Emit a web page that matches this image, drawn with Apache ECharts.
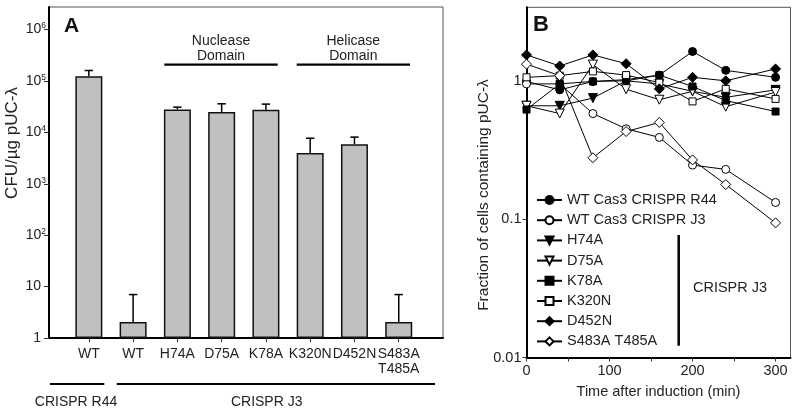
<!DOCTYPE html>
<html><head><meta charset="utf-8">
<script src="https://cdn.jsdelivr.net/npm/echarts@6/dist/echarts.min.js"></script>
<style>html,body{margin:0;padding:0;background:#fff}#c{width:800px;height:415px}</style>
</head><body><div id="c"></div>
<script>
// ---------- Panel A data ----------
const categoriesA = ['WT', 'WT', 'H74A', 'D75A', 'K78A', 'K320N', 'D452N', 'S483A\nT485A'];
const cfuMean  = [124000, 2.05, 28000, 25000, 27600, 3960, 5900, 2.05];
const cfuUpper = [160000, 7.0, 31000, 36000, 35500, 7700, 8100, 7.0];
const yTicksA  = [1, 10, 100, 1000, 10000, 100000, 1000000];

// ---------- Panel B data ----------
const timesB = [0, 40, 80, 120, 160, 200, 240, 300];
const namesB = ['WT Cas3 CRISPR R44', 'WT Cas3 CRISPR J3', 'H74A', 'D75A', 'K78A', 'K320N', 'D452N', 'S483A T485A'];
const wtR44 = [0.99, 0.86, 0.99, 1.00, 1.10, 1.63, 1.19, 1.06];
const wtJ3  = [0.95, 0.95, 0.58, 0.45, 0.39, 0.246, 0.229, 0.132];
const h74a  = [0.66, 0.66, 0.75, 1.00, 0.95, 0.84, 0.76, 0.86];
const d75a  = [0.66, 0.58, 1.31, 0.87, 0.73, 0.84, 0.65, 0.83];
const k78a  = [0.62, 0.95, 0.99, 1.02, 1.10, 0.91, 0.72, 0.60];
const k320n = [1.06, 1.09, 1.17, 1.10, 0.97, 0.71, 0.875, 0.74];
const d452n = [1.54, 1.28, 1.54, 1.33, 0.875, 1.06, 1.00, 1.22];
const s483a = [1.32, 1.09, 0.278, 0.43, 0.50, 0.268, 0.178, 0.094];
const xTicksB = [0, 100, 200, 300];
const xMinorTicksB = [0, 50, 100, 150, 200, 250, 300];
const yTicksB = [0.01, 0.1, 1];

const chart = echarts.init(document.getElementById('c'), null, {renderer: 'canvas', width: 800, height: 415});
const txt = '#222';
const FONT = '"Liberation Sans", Arial, Helvetica, sans-serif';

const posA = categoriesA.map((c, i) => i + 1);
const barData = cfuMean.map((v, i) => [posA[i], v]);
const errData = cfuMean.map((v, i) => [posA[i], v, cfuUpper[i]]);

const TRI_DOWN = 'path://M0,0L10,0L5,9Z';
const styleB = [
  {symbol: 'circle', size: 8, fill: '#000'},
  {symbol: 'circle', size: 8, fill: '#fff'},
  {symbol: TRI_DOWN, size: 9, fill: '#000'},
  {symbol: TRI_DOWN, size: 9, fill: '#fff'},
  {symbol: 'rect', size: 7, fill: '#000'},
  {symbol: 'rect', size: 7, fill: '#fff'},
  {symbol: 'diamond', size: 10, fill: '#000'},
  {symbol: 'diamond', size: 10, fill: '#fff'}
];
const valuesB = [wtR44, wtJ3, h74a, d75a, k78a, k320n, d452n, s483a];

const seriesB = namesB.map((name, k) => ({
  name: name,
  type: 'line',
  xAxisIndex: 1, yAxisIndex: 1,
  data: timesB.map((t, i) => [t, valuesB[k][i]]),
  symbol: styleB[k].symbol,
  symbolSize: styleB[k].size,
  showAllSymbol: true,
  lineStyle: {color: '#000', width: 1},
  itemStyle: {color: styleB[k].fill, borderColor: '#000', borderWidth: 1},
  emphasis: {disabled: true},
  z: 3 + k
}));

const option = {
  animation: false,
  textStyle: {fontFamily: FONT},
  grid: [
    {left: 49, top: 7, width: 394, height: 331, show: true, borderColor: '#555', borderWidth: 1, containLabel: false},
    {left: 526.5, top: 7.3, width: 264, height: 350.2, show: true, borderColor: '#555', borderWidth: 1, containLabel: false}
  ],
  xAxis: [
    {
      gridIndex: 0, type: 'value', min: 0.1, max: 9,
      splitLine: {show: false},
      axisLine: {onZero: false, lineStyle: {color: '#000', width: 2}},
      axisTick: {customValues: posA, length: 4, lineStyle: {color: '#333', width: 1}},
      axisLabel: {customValues: posA, formatter: v => categoriesA[Math.round(v) - 1] || '',
                  fontSize: 14, color: txt, margin: 8, lineHeight: 15.5, fontFamily: FONT}
    },
    {
      gridIndex: 1, type: 'value', min: 0, max: 318,
      splitLine: {show: false},
      axisLine: {onZero: false, lineStyle: {color: '#000', width: 2}},
      axisTick: {customValues: xMinorTicksB, length: 4, lineStyle: {color: '#333', width: 1}},
      axisLabel: {customValues: xTicksB, fontSize: 14.5, color: txt, margin: 6, fontFamily: FONT},
      name: 'Time after induction (min)', nameLocation: 'middle', nameGap: 27,
      nameTextStyle: {fontSize: 14.5, color: txt, fontFamily: FONT}
    }
  ],
  yAxis: [
    {
      gridIndex: 0, type: 'log', logBase: 10, min: 1, max: 2750000,
      splitLine: {show: false}, minorTick: {show: false},
      axisLine: {onZero: false, lineStyle: {color: '#000', width: 2}},
      axisTick: {customValues: yTicksA, length: 5, lineStyle: {color: '#333', width: 1}},
      axisLabel: {
        customValues: yTicksA, fontSize: 14, color: txt, margin: 3, fontFamily: FONT,
        formatter: v => {
          const e = Math.round(Math.log10(v));
          if (e === 0) return '1{pad| }';
          if (e === 1) return '10{pad| }';
          return '10{sup|' + e + '}';
        },
        rich: {
          sup: {fontSize: 8.5, verticalAlign: 'top', padding: [0, 0, 7, 0], color: txt, fontFamily: FONT},
          pad: {fontSize: 8.5, width: 5}
        }
      }
    },
    {
      gridIndex: 1, type: 'log', logBase: 10, min: 0.01, max: 3.4,
      splitLine: {show: false}, minorTick: {show: false},
      axisLine: {onZero: false, lineStyle: {color: '#000', width: 2}},
      axisTick: {customValues: yTicksB, length: 4, lineStyle: {color: '#333', width: 1}},
      axisLabel: {customValues: yTicksB, fontSize: 14.5, color: txt, margin: 5, fontFamily: FONT,
                  formatter: v => String(v)}
    }
  ],
  legend: {
    orient: 'vertical', left: 531, top: 187,
    itemWidth: 25, itemHeight: 10, itemGap: 4.2,
    textStyle: {fontSize: 14.5, color: txt, fontFamily: FONT, lineHeight: 16},
    data: namesB, selectedMode: false
  },
  series: [
    {
      type: 'bar', xAxisIndex: 0, yAxisIndex: 0, data: barData, barWidth: 27,
      itemStyle: {color: '#c0c0c0', borderColor: '#111', borderWidth: 1.5},
      emphasis: {disabled: true}, z: 2
    },
    {
      type: 'custom', xAxisIndex: 0, yAxisIndex: 0, data: errData, z: 3,
      encode: {x: 0, y: [1, 2]},
      renderItem: (params, api) => {
        const p0 = api.coord([api.value(0), api.value(1)]);
        const p1 = api.coord([api.value(0), api.value(2)]);
        const st = {stroke: '#000', lineWidth: 1.5};
        return {type: 'group', children: [
          {type: 'line', shape: {x1: p0[0], y1: p0[1], x2: p1[0], y2: p1[1]}, style: st},
          {type: 'line', shape: {x1: p1[0] - 4.2, y1: p1[1], x2: p1[0] + 4.2, y2: p1[1]}, style: st}
        ]};
      }
    }
  ].concat(seriesB),
  graphic: [
    // panel letters
    {type: 'text', x: 64, y: 26, style: {text: 'A', font: 'bold 21px ' + FONT, fill: '#111', align: 'left', verticalAlign: 'middle'}},
    {type: 'text', x: 533, y: 25, style: {text: 'B', font: 'bold 22px ' + FONT, fill: '#111', align: 'left', verticalAlign: 'middle'}},
    // panel A annotations
    {type: 'text', x: 221, y: 48.5, style: {text: 'Nuclease\nDomain', font: '14px ' + FONT, lineHeight: 15, fill: txt, align: 'center', verticalAlign: 'middle'}},
    {type: 'line', shape: {x1: 164.3, y1: 64.7, x2: 277.7, y2: 64.7}, style: {stroke: '#000', lineWidth: 2.3}},
    {type: 'text', x: 353.3, y: 48.5, style: {text: 'Helicase\nDomain', font: '14px ' + FONT, lineHeight: 15, fill: txt, align: 'center', verticalAlign: 'middle'}},
    {type: 'line', shape: {x1: 296.7, y1: 64.7, x2: 410, y2: 64.7}, style: {stroke: '#000', lineWidth: 2.3}},
    {type: 'line', shape: {x1: 50, y1: 384, x2: 104.3, y2: 384}, style: {stroke: '#000', lineWidth: 2}},
    {type: 'line', shape: {x1: 116.7, y1: 384, x2: 435, y2: 384}, style: {stroke: '#000', lineWidth: 2}},
    {type: 'text', x: 76, y: 402.3, style: {text: 'CRISPR R44', font: '14px ' + FONT, fill: txt, align: 'center', verticalAlign: 'middle'}},
    {type: 'text', x: 266.7, y: 402.3, style: {text: 'CRISPR J3', font: '14px ' + FONT, fill: txt, align: 'center', verticalAlign: 'middle'}},
    {type: 'text', x: 12, y: 143, rotation: Math.PI / 2, style: {text: 'CFU/µg pUC-λ', font: '17px ' + FONT, fill: txt, align: 'center', verticalAlign: 'middle'}},
    // panel B annotations
    {type: 'text', x: 484, y: 195, rotation: Math.PI / 2, style: {text: 'Fraction of cells containing pUC-λ', font: '15.5px ' + FONT, fill: txt, align: 'center', verticalAlign: 'middle'}},
    {type: 'line', shape: {x1: 678.7, y1: 235, x2: 678.7, y2: 345.7}, style: {stroke: '#000', lineWidth: 2.5}},
    {type: 'text', x: 730, y: 288.3, style: {text: 'CRISPR J3', font: '14.5px ' + FONT, fill: txt, align: 'center', verticalAlign: 'middle'}}
  ]
};
chart.setOption(option);
</script>
</body></html>
